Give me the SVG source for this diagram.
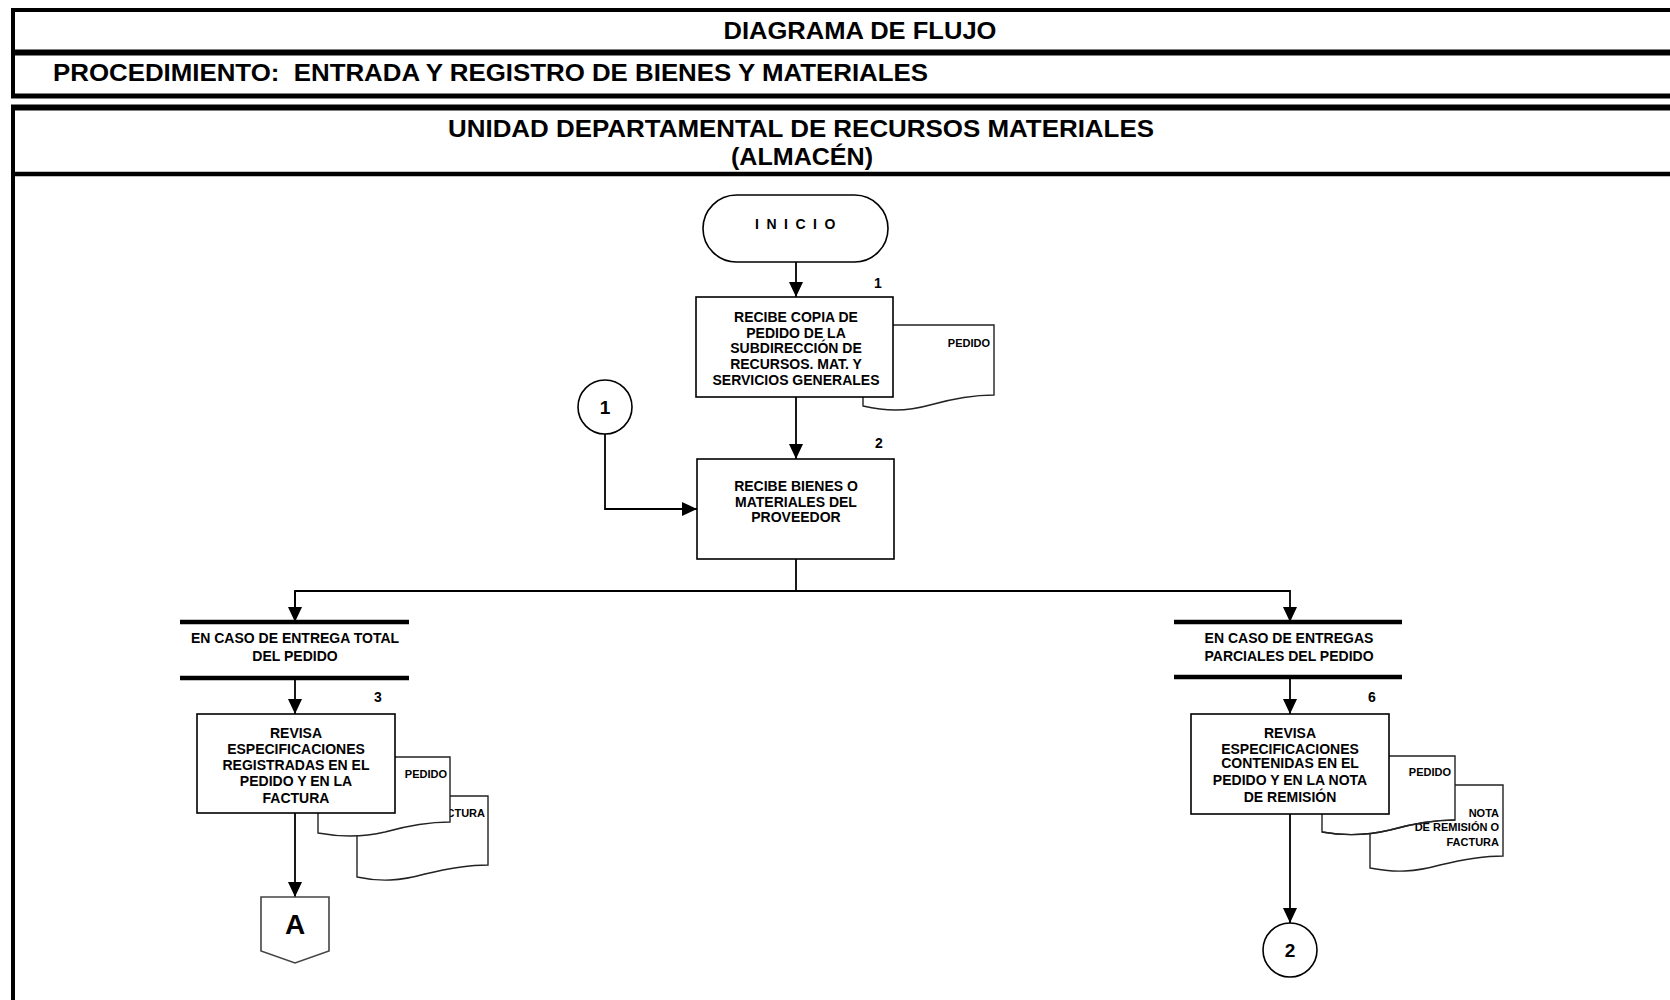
<svg xmlns="http://www.w3.org/2000/svg" width="1670" height="1000" viewBox="0 0 1670 1000">
<defs>
<style>
.hdr{font-family:"Liberation Sans",Arial,sans-serif;font-weight:bold;font-size:23px;fill:#000}
.frame{stroke:#000;fill:none}
.box{fill:#fff;stroke:#000;stroke-width:1.6}
.doc{fill:#fff;stroke:#222;stroke-width:1.4}
.t{font-family:"Liberation Sans",Arial,sans-serif;font-weight:bold;font-size:14px;fill:#000;text-anchor:middle}
.d{font-family:"Liberation Sans",Arial,sans-serif;font-weight:bold;font-size:11px;fill:#000;text-anchor:end}
.n{font-family:"Liberation Sans",Arial,sans-serif;font-weight:bold;font-size:14px;fill:#000;text-anchor:middle}
.big{font-size:19px}
.huge{font-size:28px}
.c{fill:none;stroke:#000;stroke-width:1.8}
.bar{stroke:#000;stroke-width:4.5}
</style>
<marker id="ah" markerUnits="userSpaceOnUse" markerWidth="15" markerHeight="14" refX="15" refY="7" orient="auto">
<path d="M0,0 L15,7 L0,14 Z" fill="#000"/>
</marker>
</defs>
<rect width="1670" height="1000" fill="#fff"/>

<g id="header">
<line class="frame" x1="11" y1="10" x2="1670" y2="10" stroke-width="4"/>
<line class="frame" x1="11" y1="52.5" x2="1670" y2="52.5" stroke-width="6"/>
<line class="frame" x1="11" y1="96" x2="1670" y2="96" stroke-width="5"/>
<line class="frame" x1="13" y1="8" x2="13" y2="98" stroke-width="4"/>
<line class="frame" x1="11" y1="107.5" x2="1670" y2="107.5" stroke-width="6"/>
<line class="frame" x1="11" y1="174" x2="1670" y2="174" stroke-width="4.5"/>
<line class="frame" x1="13" y1="105" x2="13" y2="1000" stroke-width="4"/>
<text class="hdr" x="860" y="39" text-anchor="middle" textLength="273" lengthAdjust="spacingAndGlyphs">DIAGRAMA DE FLUJO</text>
<text class="hdr" x="53" y="81" textLength="875" lengthAdjust="spacingAndGlyphs" xml:space="preserve">PROCEDIMIENTO:  ENTRADA Y REGISTRO DE BIENES Y MATERIALES</text>
<text class="hdr" x="801" y="137" text-anchor="middle" textLength="706" lengthAdjust="spacingAndGlyphs">UNIDAD DEPARTAMENTAL DE RECURSOS MATERIALES</text>
<text class="hdr" x="802" y="165" text-anchor="middle" textLength="142" lengthAdjust="spacingAndGlyphs">(ALMACÉN)</text>
</g>

<g id="connectors">
<line class="c" x1="796" y1="262" x2="796" y2="297" marker-end="url(#ah)"/>
<line class="c" x1="796" y1="397" x2="796" y2="459" marker-end="url(#ah)"/>
<polyline class="c" points="605,434 605,509 697,509" marker-end="url(#ah)"/>
<polyline class="c" points="796,559 796,591"/>
<polyline class="c" points="295,622 295,591 1290,591 1290,622" marker-end="url(#ah)"/>
<line class="c" x1="295" y1="591" x2="295" y2="622" marker-end="url(#ah)"/>
<line class="c" x1="295" y1="679" x2="295" y2="714" marker-end="url(#ah)"/>
<line class="c" x1="1290" y1="679" x2="1290" y2="714" marker-end="url(#ah)"/>
<line class="c" x1="295" y1="813" x2="295" y2="897" marker-end="url(#ah)"/>
<line class="c" x1="1290" y1="814" x2="1290" y2="923" marker-end="url(#ah)"/>
</g>

<g id="inicio">
<rect x="703" y="195" width="185" height="67" rx="33.5" ry="33.5" fill="#fff" stroke="#000" stroke-width="1.6"/>
<text x="799" y="229" class="n" letter-spacing="7.5">INICIO</text>
</g>

<g id="step1">
<path class="doc" d="M863,325 H994 V395 C975,395 955,398 930,405 C905,412 885,411 863,406 Z"/>
<text class="d" x="990" y="347">PEDIDO</text>
<rect class="box" x="696" y="297" width="197" height="100"/>
<text class="t" x="796" y="322">RECIBE COPIA DE</text>
<text class="t" x="796" y="338">PEDIDO DE LA</text>
<text class="t" x="796" y="353">SUBDIRECCIÓN DE</text>
<text class="t" x="796" y="369">RECURSOS. MAT. Y</text>
<text class="t" x="796" y="385">SERVICIOS GENERALES</text>
<text class="n" x="878" y="288">1</text>
</g>

<g id="conn1">
<circle cx="605" cy="407" r="27" fill="#fff" stroke="#000" stroke-width="1.6"/>
<text x="605" y="414" class="n big">1</text>
</g>

<g id="step2">
<rect class="box" x="697" y="459" width="197" height="100"/>
<text class="t" x="796" y="491">RECIBE BIENES O</text>
<text class="t" x="796" y="507">MATERIALES DEL</text>
<text class="t" x="796" y="522">PROVEEDOR</text>
<text class="n" x="879" y="448">2</text>
</g>

<g id="caseTotal">
<line class="bar" x1="180" y1="622" x2="409" y2="622"/>
<line class="bar" x1="180" y1="678" x2="409" y2="678"/>
<text class="t" x="295" y="643">EN CASO DE ENTREGA TOTAL</text>
<text class="t" x="295" y="661">DEL PEDIDO</text>
</g>

<g id="step3">
<path class="doc" d="M357,796 H488 V865 C468,865 450,868 425,874 C400,881 380,882 357,877 Z"/>
<text class="d" x="485" y="817">FACTURA</text>
<path class="doc" d="M318,757 H450 V822 C430,822 410,825 385,832 C360,838 340,837 318,833 Z"/>
<text class="d" x="447" y="778">PEDIDO</text>
<rect class="box" x="197" y="714" width="198" height="99"/>
<text class="t" x="296" y="738">REVISA</text>
<text class="t" x="296" y="754">ESPECIFICACIONES</text>
<text class="t" x="296" y="770">REGISTRADAS EN EL</text>
<text class="t" x="296" y="786">PEDIDO Y EN LA</text>
<text class="t" x="296" y="803">FACTURA</text>
<text class="n" x="378" y="702">3</text>
</g>

<g id="connA">
<path d="M261,897 H329 V951 L295,963 L261,951 Z" fill="#fff" stroke="#444" stroke-width="1.6"/>
<text x="295" y="934" class="n huge">A</text>
</g>

<g id="caseParcial">
<line class="bar" x1="1174" y1="622" x2="1402" y2="622"/>
<line class="bar" x1="1174" y1="677" x2="1402" y2="677"/>
<text class="t" x="1289" y="643">EN CASO DE ENTREGAS</text>
<text class="t" x="1289" y="661">PARCIALES DEL PEDIDO</text>
</g>

<g id="step6">
<path class="doc" d="M1370,785 H1503 V856 C1483,856 1465,859 1440,865 C1415,872 1395,873 1370,868 Z"/>
<path class="doc" d="M1322,756 H1455 V820 C1435,820 1415,823 1390,830 C1365,836 1345,836 1322,832 Z"/>
<text class="d" x="1451" y="776">PEDIDO</text>
<text class="d" x="1499" y="817">NOTA</text>
<text class="d" x="1499" y="831">DE REMISIÓN O</text>
<text class="d" x="1499" y="846">FACTURA</text>
<path d="M1455,820 C1435,820 1415,823 1390,830 C1365,836 1345,836 1322,832" fill="none" stroke="#222" stroke-width="1.4"/>
<rect class="box" x="1191" y="714" width="198" height="100"/>
<text class="t" x="1290" y="738">REVISA</text>
<text class="t" x="1290" y="754">ESPECIFICACIONES</text>
<text class="t" x="1290" y="768">CONTENIDAS EN EL</text>
<text class="t" x="1290" y="785">PEDIDO Y EN LA NOTA</text>
<text class="t" x="1290" y="802">DE REMISIÓN</text>
<text class="n" x="1372" y="702">6</text>
</g>

<g id="conn2">
<circle cx="1290" cy="950" r="27" fill="#fff" stroke="#000" stroke-width="1.6"/>
<text x="1290" y="957" class="n big">2</text>
</g>
</svg>
